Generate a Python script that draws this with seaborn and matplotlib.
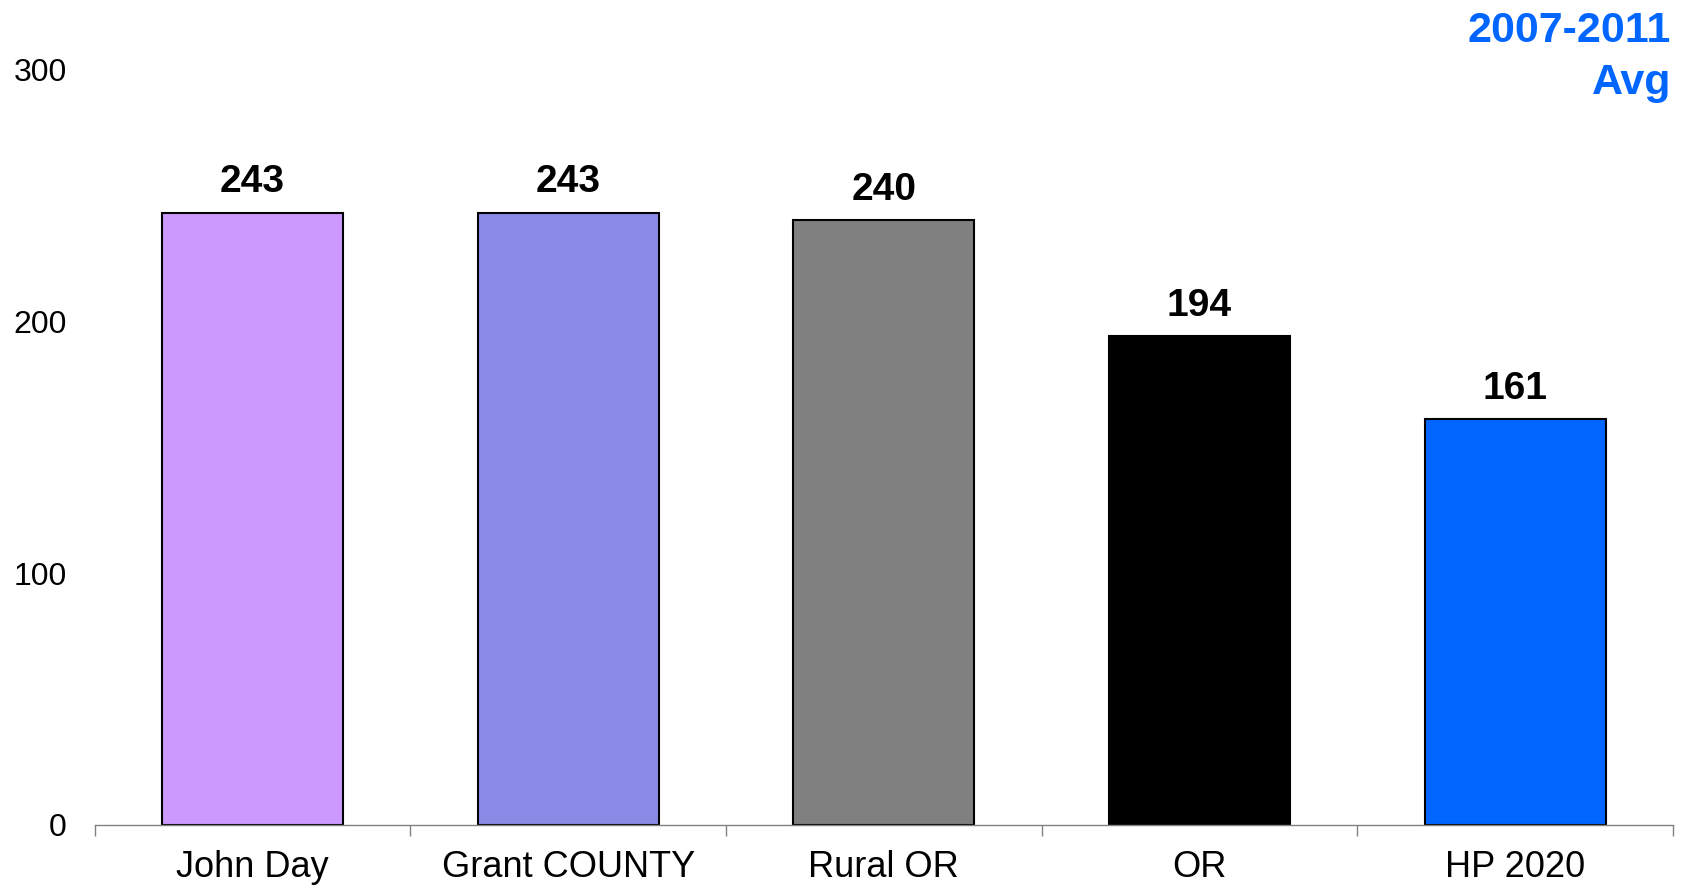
import matplotlib
matplotlib.use("Agg")
import matplotlib.pyplot as plt
import seaborn as sns
import pandas as pd
import numpy as np

categories = ["John Day", "Grant COUNTY", "Rural OR", "OR", "HP 2020"]
values = [243, 243, 240, 194, 161]
colors = ["#CC99FF", "#8A8AE6", "#808080", "#000000", "#0066FF"]
yticks = [0, 100, 200, 300]
title_text = "2007-2011\nAvg"

sns.set_theme(style="white")
plt.rcParams["font.family"] = ["Liberation Sans", "DejaVu Sans"]
plt.rcParams["text.color"] = "black"
plt.rcParams["xtick.color"] = "black"
plt.rcParams["ytick.color"] = "black"

df = pd.DataFrame({"cat": categories, "val": values})

fig = plt.figure(figsize=(16.87, 8.85), dpi=100)
ax = fig.add_axes([0.0561, 0.0678, 0.9356, 0.8542])

sns.barplot(data=df, x="cat", y="val", hue="cat", palette=colors, legend=False,
            width=0.573, edgecolor="black", linewidth=1.5, saturation=1, ax=ax)

ax.set_xlim(-0.5, len(categories) - 0.5)
ax.set_ylim(0, 300)
ax.set_yticks(yticks)
ax.set_yticklabels([str(t) for t in yticks], fontsize=23)
ax.tick_params(axis="y", length=0, pad=20, labelcolor="black")
ax.tick_params(axis="x", which="major", length=0, pad=18, labelsize=26, labelcolor="black")
ax.set_xticks(np.arange(-0.5, len(categories), 1.0), minor=True)
ax.tick_params(axis="x", which="minor", bottom=True, length=8, width=1,
               color="#808080", direction="out")
ax.set_xlabel("")
ax.set_ylabel("")

for s in ["top", "right", "left"]:
    ax.spines[s].set_visible(False)
ax.spines["bottom"].set_color("#808080")
ax.spines["bottom"].set_linewidth(1)

for i, v in enumerate(values):
    ax.annotate(str(v), (i, v), xytext=(0, 9), textcoords="offset points",
                ha="center", va="bottom", fontsize=28, fontweight="bold", color="black")

fig.text(1671 / 1687, 1 - 11 / 885, title_text, ha="right", va="top",
         fontsize=31, fontweight="bold", color="#0066FF", linespacing=1.4)

fig.savefig("out.png", dpi=100)
